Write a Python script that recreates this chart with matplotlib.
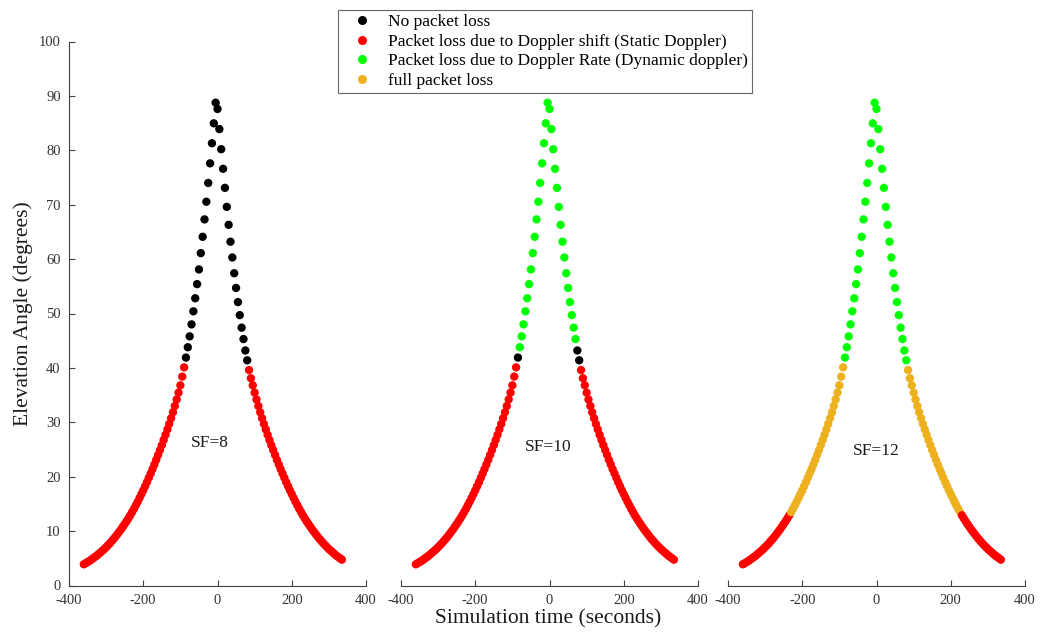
import matplotlib

matplotlib.use("Agg")
import matplotlib.pyplot as plt
import numpy as np
from matplotlib.lines import Line2D

plt.rcParams["font.family"] = ["Liberation Serif", "DejaVu Serif"]
plt.rcParams["axes.unicode_minus"] = False

# simulation samples, 5 s apart
time_start, time_stop, time_step = -360, 335, 5

# elevation while the satellite rises (t = -360 ... -5 s)
elev_rising = [
    3.9, 4.1, 4.3, 4.5, 4.75, 5.0, 5.25, 5.5, 5.8, 6.1, 6.4, 6.7,
    7.05, 7.4, 7.75, 8.15, 8.55, 8.95, 9.4, 9.85, 10.3, 10.8, 11.3, 11.8,
    12.35, 12.9, 13.5, 14.1, 14.75, 15.4, 16.1, 16.8, 17.5, 18.25, 19.0, 19.8,
    20.6, 21.4, 22.25, 23.1, 24.0, 24.9, 25.8, 26.75, 27.7, 28.7, 29.7, 30.75,
    31.85, 33.0, 34.2, 35.45, 36.8, 38.4, 40.1, 41.9, 43.8, 45.8, 48.0, 50.4,
    52.8, 55.4, 58.1, 61.1, 64.1, 67.3, 70.55, 74.0, 77.6, 81.3, 84.96, 88.75,
]
# elevation while the satellite sets (t = 0 ... 335 s)
elev_setting = [
    87.6, 83.9, 80.2, 76.6, 73.1, 69.6, 66.3, 63.2, 60.3, 57.4, 54.7, 52.1,
    49.7, 47.4, 45.3, 43.2, 41.4, 39.6, 38.1, 36.8, 35.45, 34.2, 33.0, 31.85,
    30.75, 29.7, 28.7, 27.7, 26.75, 25.8, 24.9, 24.0, 23.1, 22.25, 21.4, 20.6,
    19.8, 19.0, 18.25, 17.5, 16.8, 16.1, 15.4, 14.75, 14.1, 13.5, 12.9, 12.35,
    11.8, 11.3, 10.8, 10.3, 9.85, 9.4, 8.95, 8.55, 8.15, 7.75, 7.4, 7.05,
    6.7, 6.4, 6.1, 5.8, 5.5, 5.25, 5.0, 4.75,
]

spreading_factors = [8, 10, 12]
# elevation bands per SF: (lower bound, status), checked from the top down
status_bands = {
    8: [(41.0, "none"), (0.0, "static")],
    10: [(43.5, "dynamic"), (41.0, "none"), (0.0, "static")],
    12: [(41.0, "dynamic"), (13.2, "full"), (0.0, "static")],
}
label_pos = {8: (-20, 26.2), 10: (-3, 25.5), 12: (0, 24.7)}

status_names = ["none", "static", "dynamic", "full"]
status_labels = [
    "No packet loss",
    "Packet loss due to Doppler shift (Static Doppler)",
    "Packet loss due to Doppler Rate (Dynamic doppler)",
    "full packet loss",
]
status_colors = {
    "none": "#000000",
    "static": "#ff0000",
    "dynamic": "#00ff00",
    "full": "#edb120",
}

times = np.arange(time_start, time_stop + time_step, time_step)
elevation = np.array(elev_rising + elev_setting)


def classify(elev, bands):
    for lower, status in bands:
        if elev > lower:
            return status
    return bands[-1][1]


axis_color = "#404040"
fig = plt.figure(figsize=(10.46, 6.32), dpi=100)
W, H = 1046, 632
lefts = [69, 401, 728]
for i, sf in enumerate(spreading_factors):
    ax = fig.add_axes([lefts[i] / W, 46.5 / H, 297 / W, 544 / H])
    colors = [status_colors[classify(e, status_bands[sf])] for e in elevation]
    ax.scatter(times, elevation, c=colors, s=36, linewidths=0, zorder=3)
    ax.set_xlim(-400, 400)
    ax.set_ylim(0, 100)
    ax.set_xticks([-400, -200, 0, 200, 400])
    ax.text(*label_pos[sf], f"SF={sf}", ha="center", va="center", fontsize=12.5,
            color="#1a1a1a")
    for side in ("top", "right"):
        ax.spines[side].set_visible(False)
    ax.spines["bottom"].set_color(axis_color)
    ax.spines["left"].set_color(axis_color)
    ax.tick_params(direction="in", length=4, width=0.8, colors=axis_color,
                   labelsize=10.5, labelcolor="#333333", pad=6)
    if i == 0:
        ax.set_yticks(range(0, 101, 10))
        ax.set_ylabel("Elevation Angle (degrees)", fontsize=15.5, color="#1a1a1a",
                      labelpad=4)
    else:
        ax.spines["left"].set_visible(False)
        ax.set_yticks([])

fig.text(548 / W, 1 - 619 / H, "Simulation time (seconds)", ha="center", va="center",
         fontsize=15.5, color="#1a1a1a")

handles = [
    Line2D([], [], marker="o", linestyle="none", markersize=6.5,
           markerfacecolor=status_colors[s], markeredgewidth=0)
    for s in status_names
]
leg = fig.legend(handles, status_labels, loc="upper left",
                 bbox_to_anchor=(338 / W, 1 - 10 / H), fontsize=12.5,
                 frameon=True, fancybox=False, borderpad=0.22, labelspacing=0.2,
                 handletextpad=0.35, handlelength=2.3, borderaxespad=0)
leg.get_frame().set_edgecolor("#404040")
leg.get_frame().set_linewidth(0.8)

fig.savefig("out.png", dpi=100)
